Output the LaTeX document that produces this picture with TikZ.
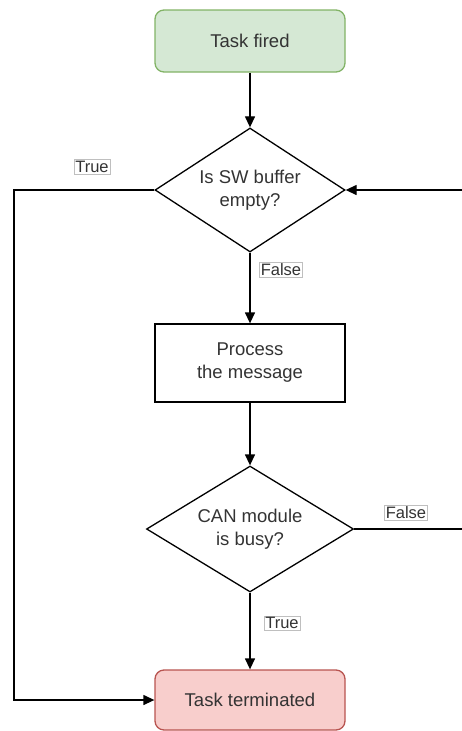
\documentclass[tikz,border=0pt]{standalone}
\usepackage{fontspec}
\setmainfont{Liberation Sans}
\usetikzlibrary{shapes.geometric,arrows.meta}
\definecolor{startfill}{HTML}{D5E8D4}
\definecolor{startline}{HTML}{82B366}
\definecolor{endfill}{HTML}{F8CECC}
\definecolor{endline}{HTML}{B85450}
\definecolor{txt}{HTML}{333333}
\begin{document}
\begin{tikzpicture}[x=1pt,y=-1pt,
  every node/.style={font=\fontsize{18.5}{23}\selectfont, text=txt},
  termbox/.style={draw, rounded corners=9pt, minimum width=190pt, minimum height=62pt, line width=1.3pt, inner sep=0pt},
  procbox/.style={draw, minimum width=190pt, minimum height=78pt, line width=1.3pt, align=center, inner sep=0pt},
  decision/.style={draw, diamond, aspect=1.53, line width=1.3pt, align=center, inner sep=0pt},
  flow/.style={draw, line width=1.3pt, -{Triangle[length=11pt,width=10pt]}},
  plain/.style={draw, line width=1.3pt},
  tag/.style={fill=white, draw=black!25, line width=0.5pt, inner sep=1.5pt, font=\fontsize{16.5}{18}\selectfont}
]
\useasboundingbox (0,0) rectangle (462,731);

\node[termbox, fill=startfill, draw=startline] (fired) at (250,41) {Task fired};
\node[decision, minimum width=190pt, minimum height=124pt] (empty) at (250,190) {Is SW buffer\\empty?};
\node[procbox] (proc) at (250,363) {Process\\the message};
\node[decision, minimum width=207pt, minimum height=126pt] (busy) at (250,529) {CAN module\\is busy?};
\node[termbox, fill=endfill, draw=endline, minimum height=60pt] (term) at (250,700) {Task terminated};

\coordinate (leftrail) at (14,190);
\coordinate (inedge) at (462,190);
\coordinate (outedge) at (462,529);

\draw[flow] (fired) -- (empty);
\draw[flow] (empty) -- (proc);
\draw[flow] (proc) -- (busy);
\draw[flow] (busy) -- (term);
\draw[flow] (empty.west) -- (leftrail) |- (term.west);
\draw[flow] (inedge) -- (empty.east);
\draw[plain] (busy.east) -- (outedge);

\node[tag] (ltrue1) at (92,167) {True};
\node[tag] (lfalse1) at (281,270) {False};
\node[tag] (lfalse2) at (406,513) {False};
\node[tag] (ltrue2) at (282,623) {True};
\end{tikzpicture}
\end{document}
